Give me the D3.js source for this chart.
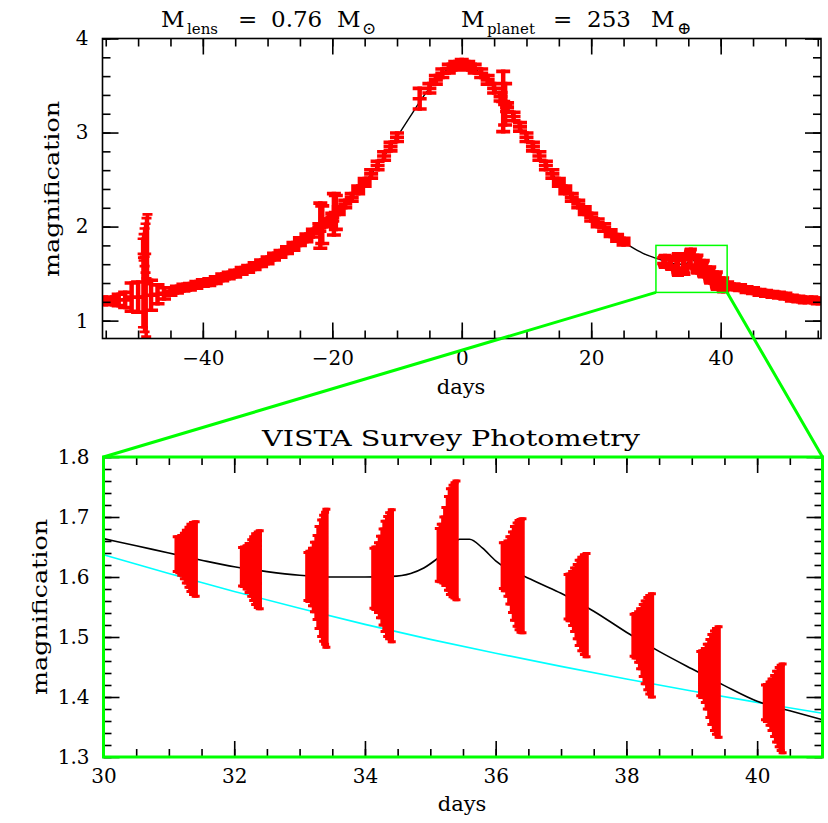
<!DOCTYPE html>
<html>
<head>
<meta charset="utf-8">
<script src="https://cdn.jsdelivr.net/npm/d3@7"></script>
<style>
  body { margin: 0; background: #fff; }
  text { font-family: "DejaVu Serif", "Liberation Serif", serif; fill: #000; }
</style>
</head>
<body>
<svg id="chart" width="828" height="823"></svg>
<script>
// ---------- tick labels ----------
const lightCurveTickDays = [-40, -20, 0, 20, 40];
const lightCurveTickMag = [1, 2, 3, 4];
const zoomTickDays = [30, 32, 34, 36, 38, 40];
const zoomTickMag = [1.3, 1.4, 1.5, 1.6, 1.7, 1.8];

// ---------- planetary model light curve (full event) ----------
const modelDay = [-55.5, -54, -52, -50, -48, -46, -44, -42, -40, -38, -36, -34, -32, -30, -28, -26, -24, -22, -20,
  -18, -16, -14, -12, -10, -8, -6, -4, -2, 0, 2, 4, 6, 8, 10, 12, 14, 16, 18, 20, 22, 24, 26, 28,
  30, 31, 32, 33, 34, 34.5, 35, 35.5, 36, 36.5, 37, 38, 39, 40, 41, 42, 44, 46, 48, 50, 52, 54, 55.5];
const modelMag = [1.203, 1.216, 1.234, 1.255, 1.278, 1.303, 1.330, 1.361, 1.396, 1.435, 1.478, 1.527, 1.581, 1.643, 1.713, 1.792, 1.883, 1.985, 2.102,
  2.236, 2.387, 2.558, 2.747, 2.953, 3.167, 3.376, 3.556, 3.681, 3.726, 3.681, 3.556, 3.376, 3.167, 2.953, 2.747, 2.558, 2.387, 2.236, 2.102, 1.985, 1.883, 1.792, 1.716,
  1.664, 1.640, 1.617, 1.603, 1.600, 1.602, 1.622, 1.663, 1.627, 1.598, 1.573, 1.508, 1.447, 1.393, 1.362, 1.355, 1.328, 1.303, 1.278, 1.255, 1.234, 1.216, 1.203];

// ---------- nightly survey photometry (full event) ----------
const nightDay = [-55, -54, -53, -52, -51, -50, -48, -47, -46, -45, -44, -43, -42, -41, -40, -39, -38, -37, -36, -35,
  -34, -33, -32, -31, -30, -29, -28, -27, -26, -25, -24, -23, -22, -21.85, -21.55, -21, -20, -19.75, -19.45, -19,
  -18, -17, -16, -15, -14, -13, -12, -11, -10,
  -6.5, -5, -4, -3, -2, -1, 0, 1, 2, 3, 4, 5, 6, 6.4, 6.7, 7, 8, 9, 10, 11, 12, 13, 14, 15, 16, 17, 18, 19, 20,
  21, 22, 23, 24, 25,
  41, 42, 43, 44, 45, 46, 47, 48, 49, 50, 51, 52, 53, 54, 55];
const nightMag = [1.21, 1.21, 1.22, 1.22, 1.25, 1.25, 1.27, 1.28, 1.29, 1.31, 1.33, 1.35, 1.36, 1.38, 1.40, 1.41, 1.43, 1.46, 1.48, 1.50,
  1.53, 1.55, 1.58, 1.61, 1.64, 1.68, 1.71, 1.75, 1.79, 1.84, 1.88, 1.93, 1.99, 2.01, 2.02, 2.04, 2.10, 2.13, 2.15, 2.17,
  2.24, 2.31, 2.39, 2.47, 2.56, 2.65, 2.75, 2.85, 2.95,
  3.36, 3.47, 3.56, 3.63, 3.68, 3.71, 3.73, 3.71, 3.68, 3.63, 3.56, 3.47, 3.38, 3.33, 3.30, 3.27, 3.17, 3.06, 2.95, 2.85, 2.75, 2.65, 2.56, 2.47, 2.39, 2.31, 2.24, 2.17, 2.10,
  2.04, 1.99, 1.93, 1.88, 1.84,
  1.38, 1.36, 1.35, 1.33, 1.32, 1.30, 1.29, 1.28, 1.27, 1.26, 1.24, 1.23, 1.22, 1.22, 1.21];
const nightErr = [0.04, 0.04, 0.06, 0.08, 0.15, 0.16, 0.16, 0.10, 0.06, 0.04, 0.035, 0.035, 0.035, 0.035, 0.035, 0.035, 0.035, 0.035, 0.035, 0.035,
  0.035, 0.035, 0.035, 0.035, 0.035, 0.035, 0.035, 0.035, 0.04, 0.04, 0.04, 0.04, 0.04, 0.24, 0.20, 0.04, 0.04, 0.22, 0.18, 0.04,
  0.04, 0.04, 0.04, 0.04, 0.045, 0.045, 0.045, 0.045, 0.045,
  0.11, 0.05, 0.045, 0.045, 0.045, 0.045, 0.045, 0.045, 0.045, 0.045, 0.045, 0.05, 0.045, 0.32, 0.22, 0.045, 0.045, 0.045, 0.045, 0.045, 0.045, 0.045, 0.045, 0.04, 0.04, 0.04, 0.04, 0.04, 0.04,
  0.04, 0.04, 0.035, 0.035, 0.035,
  0.03, 0.03, 0.03, 0.03, 0.03, 0.03, 0.03, 0.03, 0.03, 0.03, 0.03, 0.03, 0.03, 0.03, 0.03];

// outlying exposures near day -49
const outlierDay = [-49.3, -49.15, -49.0, -48.85, -48.7, -48.55, -49.25, -49.0, -48.75];
const outlierMag = [1.79, 1.78, 1.78, 1.77, 1.77, 1.76, 1.30, 1.28, 1.27];
const outlierErr = [0.08, 0.14, 0.20, 0.26, 0.32, 0.37, 0.37, 0.40, 0.44];

// ---------- VISTA exposures, days 31 - 40 ----------
const vistaDay = [
  31.12, 31.16, 31.19, 31.23, 31.26, 31.30, 31.33, 31.37, 31.41,
  32.12, 32.15, 32.19, 32.22, 32.26, 32.29, 32.32, 32.36, 32.39,
  33.12, 33.15, 33.19, 33.22, 33.26, 33.29, 33.33, 33.36, 33.39, 33.41,
  34.13, 34.16, 34.20, 34.23, 34.27, 34.30, 34.34, 34.37, 34.41,
  35.13, 35.16, 35.20, 35.23, 35.27, 35.30, 35.34, 35.37, 35.40,
  36.11, 36.14, 36.18, 36.21, 36.25, 36.28, 36.32, 36.35, 36.38, 36.41,
  37.10, 37.13, 37.17, 37.20, 37.24, 37.27, 37.31, 37.35, 37.39,
  38.11, 38.14, 38.18, 38.21, 38.25, 38.28, 38.32, 38.35, 38.39,
  39.13, 39.16, 39.20, 39.23, 39.27, 39.30, 39.34, 39.37, 39.41,
  40.12, 40.15, 40.19, 40.22, 40.26, 40.29, 40.33, 40.36, 40.39];
const vistaMag = [
  1.638, 1.637, 1.636, 1.635, 1.634, 1.633, 1.632, 1.631, 1.630,
  1.617, 1.617, 1.616, 1.615, 1.615, 1.614, 1.613, 1.612, 1.612,
  1.601, 1.601, 1.600, 1.600, 1.599, 1.599, 1.598, 1.598, 1.598, 1.598,
  1.598, 1.598, 1.599, 1.600, 1.600, 1.601, 1.601, 1.602, 1.602,
  1.637, 1.640, 1.645, 1.651, 1.656, 1.659, 1.660, 1.661, 1.661,
  1.619, 1.617, 1.614, 1.611, 1.608, 1.606, 1.604, 1.603, 1.602, 1.602,
  1.567, 1.566, 1.564, 1.562, 1.559, 1.557, 1.555, 1.554, 1.553,
  1.503, 1.502, 1.500, 1.497, 1.494, 1.491, 1.489, 1.487, 1.486,
  1.439, 1.438, 1.436, 1.434, 1.431, 1.429, 1.427, 1.426, 1.425,
  1.391, 1.390, 1.389, 1.387, 1.385, 1.384, 1.383, 1.382, 1.381];
const vistaErr = [
  0.029, 0.030, 0.033, 0.038, 0.044, 0.050, 0.056, 0.060, 0.062,
  0.032, 0.033, 0.036, 0.041, 0.047, 0.053, 0.059, 0.063, 0.065,
  0.040, 0.042, 0.048, 0.058, 0.070, 0.085, 0.097, 0.105, 0.110, 0.115,
  0.050, 0.052, 0.058, 0.068, 0.080, 0.092, 0.100, 0.105, 0.110,
  0.044, 0.048, 0.055, 0.065, 0.078, 0.088, 0.093, 0.096, 0.099,
  0.038, 0.040, 0.046, 0.056, 0.067, 0.078, 0.086, 0.091, 0.094, 0.095,
  0.037, 0.039, 0.045, 0.053, 0.062, 0.071, 0.078, 0.083, 0.086,
  0.035, 0.037, 0.042, 0.050, 0.060, 0.069, 0.077, 0.082, 0.086,
  0.037, 0.039, 0.045, 0.054, 0.065, 0.075, 0.083, 0.088, 0.092,
  0.029, 0.031, 0.036, 0.043, 0.051, 0.059, 0.066, 0.071, 0.074];

// ---------- zoomed model curves ----------
const planetDay = [30, 30.5, 31, 31.5, 32, 32.5, 33, 33.5, 34, 34.4, 34.7, 34.9, 35.1, 35.3, 35.45, 35.6, 35.8,
  36.0, 36.2, 36.4, 36.7, 37.0, 37.5, 38.0, 38.5, 39.0, 39.5, 40.0, 40.5, 41];
const planetMag = [1.664, 1.652, 1.640, 1.628, 1.617, 1.609, 1.603, 1.600, 1.600, 1.601, 1.606, 1.615, 1.630, 1.648, 1.663, 1.663, 1.648,
  1.627, 1.612, 1.603, 1.588, 1.573, 1.543, 1.508, 1.476, 1.447, 1.419, 1.393, 1.377, 1.362];
const singleLensDay = [30, 31, 32, 33, 34, 35, 36, 37, 38, 39, 40, 41];
const singleLensMag = [1.637, 1.606, 1.576, 1.548, 1.521, 1.496, 1.473, 1.451, 1.430, 1.410, 1.391, 1.373];

// ---------- layout ----------
const svg = d3.select("#chart");
const RED = "#ff0000", GREEN = "#00ff00", CYAN = "#00ffff";

const topX = d3.scaleLinear().domain([-55.5, 55.5]).range([102.5, 821]);
const topY = d3.scaleLinear().domain([0.81, 4]).range([338.5, 38.5]);
const botX = d3.scaleLinear().domain([30, 41]).range([103.5, 822.5]);
const botY = d3.scaleLinear().domain([1.3, 1.8]).range([757, 457]);

function clipFor(id, x, y) {
  svg.append("clipPath").attr("id", id).append("rect")
    .attr("x", x.range()[0]).attr("y", y.range()[1])
    .attr("width", x.range()[1] - x.range()[0]).attr("height", y.range()[0] - y.range()[1]);
}
clipFor("clipTop", topX, topY);
clipFor("clipBot", botX, botY);

// error bars: vertical bars and caps (plus an optional centre bar), drawn as two paths
function errorBars(g, x, y, days, mags, errs, capHalf, barW, capW, cross) {
  const pts = days.map((d, i) => [x(d), y(mags[i] + errs[i]), y(mags[i]), y(mags[i] - errs[i])]);
  g.append("path")
    .attr("d", pts.map(([cx, y1, , y2]) => `M${cx},${y1 - capW / 2}V${y2 + capW / 2}`).join(""))
    .attr("fill", "none").attr("stroke", RED).attr("stroke-width", barW);
  g.append("path")
    .attr("d", pts.map(([cx, y1, ym, y2]) =>
      `M${cx - capHalf},${y1}H${cx + capHalf}M${cx - capHalf},${y2}H${cx + capHalf}` +
      (cross ? `M${cx - capHalf},${ym}H${cx + capHalf}` : "")).join(""))
    .attr("fill", "none").attr("stroke", RED).attr("stroke-width", capW);
}

function ticks(x, y, majX, minX, majY, minY, fmtX, fmtY, big, small) {
  const g = svg.append("g");
  const [x0, x1] = x.range(), [y0, y1] = y.range();
  const add = (axis, tr) => {
    const a = g.append("g").attr("transform", tr).call(axis);
    a.select(".domain").remove();
    a.selectAll("line").attr("stroke", "#000").attr("stroke-width", 1.6);
    return a;
  };
  add(d3.axisBottom(x).tickValues(minX).tickSize(-small).tickFormat(""), `translate(0,${y0})`);
  const bx = add(d3.axisBottom(x).tickValues(majX).tickSize(-big).tickPadding(12).tickFormat(fmtX), `translate(0,${y0})`);
  add(d3.axisTop(x).tickValues(minX).tickSize(-small).tickFormat(""), `translate(0,${y1})`);
  add(d3.axisTop(x).tickValues(majX).tickSize(-big).tickFormat(""), `translate(0,${y1})`);
  add(d3.axisLeft(y).tickValues(minY).tickSize(-small).tickFormat(""), `translate(${x0},0)`);
  const ly = add(d3.axisLeft(y).tickValues(majY).tickSize(-big).tickPadding(14).tickFormat(fmtY), `translate(${x0},0)`);
  add(d3.axisRight(y).tickValues(minY).tickSize(-small).tickFormat(""), `translate(${x1},0)`);
  add(d3.axisRight(y).tickValues(majY).tickSize(-big).tickFormat(""), `translate(${x1},0)`);
  [bx, ly].forEach(a => a.attr("font-family", null).attr("font-size", null)
    .selectAll("text").style("font-family", '"DejaVu Serif", serif').style("font-size", "20px").attr("fill", "#000"));
  return g;
}

// ---------- upper panel: whole event ----------
const up = svg.append("g").attr("clip-path", "url(#clipTop)");
up.append("path")
  .attr("d", d3.line().x((d, i) => topX(modelDay[i])).y(d => topY(d)).curve(d3.curveMonotoneX)(modelMag))
  .attr("fill", "none").attr("stroke", "#000").attr("stroke-width", 1.4);
errorBars(up, topX, topY, nightDay, nightMag, nightErr, 7, 4.5, 3.6, true);
errorBars(up, topX, topY, outlierDay, outlierMag, outlierErr, 5, 3.5, 2.6, false);
errorBars(up, topX, topY, vistaDay, vistaMag, vistaErr, 6, 4, 3.4, false);

ticks(topX, topY, lightCurveTickDays, d3.range(-55, 56, 5), lightCurveTickMag, d3.range(1, 4.01, 0.2),
  d3.format("d"), d3.format("d"), 16, 8);
svg.append("rect").attr("x", 102.5).attr("y", 38.5).attr("width", 821 - 102.5).attr("height", 300)
  .attr("fill", "none").attr("stroke", "#000").attr("stroke-width", 1.6);

// highlighted window and connectors
svg.append("rect")
  .attr("x", topX(30)).attr("y", topY(1.8))
  .attr("width", topX(41) - topX(30)).attr("height", topY(1.3) - topY(1.8))
  .attr("fill", "none").attr("stroke", GREEN).attr("stroke-width", 1.5);
svg.append("path")
  .attr("d", `M${topX(30)},${topY(1.3)}L${botX(30)},${botY(1.8)}M${topX(41)},${topY(1.3)}L${botX(41)},${botY(1.8)}`)
  .attr("fill", "none").attr("stroke", GREEN).attr("stroke-width", 3);

// ---------- lower panel: VISTA window ----------
const lo = svg.append("g").attr("clip-path", "url(#clipBot)");
lo.append("path")
  .attr("d", d3.line().x((d, i) => botX(singleLensDay[i])).y(d => botY(d)).curve(d3.curveMonotoneX)(singleLensMag))
  .attr("fill", "none").attr("stroke", CYAN).attr("stroke-width", 1.6);
lo.append("path")
  .attr("d", d3.line().x((d, i) => botX(planetDay[i])).y(d => botY(d)).curve(d3.curveMonotoneX)(planetMag))
  .attr("fill", "none").attr("stroke", "#000").attr("stroke-width", 1.6);
errorBars(lo, botX, botY, vistaDay, vistaMag, vistaErr, 4, 4.5, 3, false);

ticks(botX, botY, zoomTickDays, d3.range(30, 41.01, 0.5), zoomTickMag, d3.range(1.3, 1.801, 0.02),
  d3.format("d"), d3.format(".1f"), 16, 8);
svg.append("rect").attr("x", 103.5).attr("y", 457).attr("width", 822.5 - 103.5).attr("height", 300)
  .attr("fill", "none").attr("stroke", GREEN).attr("stroke-width", 3);

// ---------- titles and axis labels ----------
function piece(x, y, s, size) {
  svg.append("text").attr("x", x).attr("y", y).style("font-size", size + "px").text(s);
}
piece(161, 27, "M", 23); piece(187, 34, "lens", 15); piece(238, 27, "=", 23);
piece(271, 27, "0.76", 23); piece(337, 27, "M", 23); piece(362, 34, "⊙", 17);
piece(461, 27, "M", 23); piece(487, 34, "planet", 15); piece(553, 27, "=", 23);
piece(587, 27, "253", 23); piece(651, 27, "M", 23); piece(677, 34, "⊕", 17);

svg.append("text").attr("x", 451).attr("y", 446).attr("text-anchor", "middle")
  .attr("textLength", 378).attr("lengthAdjust", "spacingAndGlyphs")
  .style("font-size", "23px").text("VISTA Survey Photometry");

svg.append("text").attr("x", 461).attr("y", 394).attr("text-anchor", "middle").style("font-size", "21px").text("days");
svg.append("text").attr("x", 462).attr("y", 811).attr("text-anchor", "middle").style("font-size", "21px").text("days");

svg.append("text").attr("transform", "translate(59,189) rotate(-90)").attr("text-anchor", "middle")
  .attr("textLength", 176).attr("lengthAdjust", "spacingAndGlyphs").style("font-size", "21px").text("magnification");
svg.append("text").attr("transform", "translate(47,607) rotate(-90)").attr("text-anchor", "middle")
  .attr("textLength", 176).attr("lengthAdjust", "spacingAndGlyphs").style("font-size", "21px").text("magnification");
</script>
</body>
</html>
